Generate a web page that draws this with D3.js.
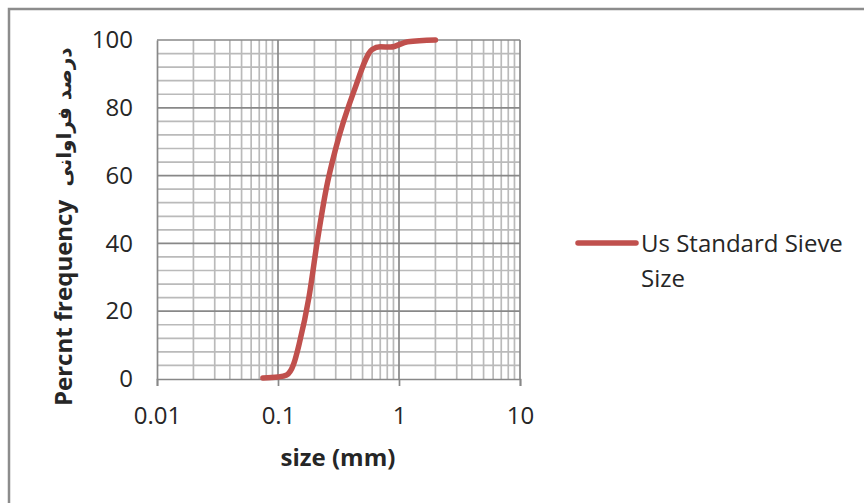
<!DOCTYPE html>
<html>
<head>
<meta charset="utf-8">
<script src="https://cdn.jsdelivr.net/npm/d3@7"></script>
<style>
  html, body { margin: 0; padding: 0; background: #fff; }
  svg { display: block; }
  text { font-family: "Open Sans", Lato, "Noto Sans", sans-serif; fill: #262626; }
</style>
</head>
<body>
<svg id="chart" width="864" height="503"></svg>
<script>
// Sieve analysis: particle size (mm) vs cumulative percent passing
const sieveSize = [0.075, 0.1, 0.118, 0.135, 0.15, 0.18, 0.212, 0.25, 0.3, 0.425, 0.6, 0.7, 0.85, 1.18, 2.0];
const percentPassing = [0.3, 0.6, 1.2, 4.5, 10.5, 24, 41, 56, 68, 85, 97.2, 98, 97.9, 99.5, 100];
const seriesName = ["Us Standard Sieve", "Size"];
const xTicks = [0.01, 0.1, 1, 10];
const xTickLabels = ["0.01", "0.1", "1", "10"];
const yTicks = [0, 20, 40, 60, 80, 100];
const xTitle = "size (mm)";
const yTitle = "Percnt frequency";
const yTitleFa = "درصد فراوانی";

const svg = d3.select("#chart");
const plot = { left: 157, right: 520, top: 40, bottom: 379 };

const x = d3.scaleLog().domain([0.01, 10]).range([plot.left, plot.right]);
const y = d3.scaleLinear().domain([0, 100]).range([plot.bottom, plot.top]);

// outer chart frame
svg.append("rect")
  .attr("x", 9).attr("y", 9)
  .attr("width", 900).attr("height", 600)
  .attr("fill", "none").attr("stroke", "#8c8c8c").attr("stroke-width", 2.5);

const grid = svg.append("g");

// minor vertical gridlines (2..9 within each decade)
const minorX = [];
[0.01, 0.1, 1].forEach(d => { for (let k = 2; k <= 9; k++) minorX.push(d * k); });
grid.selectAll(".vminor").data(minorX).join("line")
  .attr("x1", d => x(d)).attr("x2", d => x(d))
  .attr("y1", plot.top).attr("y2", plot.bottom)
  .attr("stroke", "#bababa").attr("stroke-width", 1.7);

// minor horizontal gridlines every 4 units
const minorY = d3.range(4, 100, 4).filter(v => v % 20 !== 0);
grid.selectAll(".hminor").data(minorY).join("line")
  .attr("x1", plot.left).attr("x2", plot.right)
  .attr("y1", d => y(d)).attr("y2", d => y(d))
  .attr("stroke", "#bababa").attr("stroke-width", 1.7);

// major gridlines
grid.selectAll(".vmajor").data(xTicks.slice(1)).join("line")
  .attr("x1", d => x(d)).attr("x2", d => x(d))
  .attr("y1", plot.top).attr("y2", plot.bottom)
  .attr("stroke", "#888888").attr("stroke-width", 1.7);
grid.selectAll(".hmajor").data(yTicks.slice(1)).join("line")
  .attr("x1", plot.left).attr("x2", plot.right)
  .attr("y1", d => y(d)).attr("y2", d => y(d))
  .attr("stroke", "#888888").attr("stroke-width", 1.7);

// x axis
const xAxis = d3.axisBottom(x).tickValues(xTicks)
  .tickFormat((d, i) => xTickLabels[i]).tickSize(7).tickPadding(21);
const gx = svg.append("g").attr("transform", `translate(0,${plot.bottom})`).call(xAxis);
gx.select(".domain").attr("stroke", "#888888").attr("stroke-width", 1.7);
gx.selectAll(".tick line").attr("stroke", "#888888").attr("stroke-width", 1.7);
gx.selectAll(".tick text").attr("font-size", 24).attr("fill", "#262626")
  .style("font-family", "'Open Sans', Lato, sans-serif");

// y axis
const yAxis = d3.axisLeft(y).tickValues(yTicks).tickSize(0).tickPadding(24);
const gy = svg.append("g").attr("transform", `translate(${plot.left},0)`).call(yAxis);
gy.select(".domain").attr("stroke", "#888888").attr("stroke-width", 1.7);
gy.selectAll(".tick text").attr("font-size", 24).attr("fill", "#262626")
  .style("font-family", "'Open Sans', Lato, sans-serif");

// cumulative curve
const line = d3.line()
  .x((d, i) => x(sieveSize[i]))
  .y(d => y(d))
  .curve(d3.curveMonotoneX);
svg.append("path")
  .datum(percentPassing)
  .attr("d", line)
  .attr("fill", "none")
  .attr("stroke", "#c0504d")
  .attr("stroke-width", 5.5)
  .attr("stroke-linecap", "round")
  .attr("stroke-linejoin", "round");

// axis titles
svg.append("text")
  .attr("x", 338).attr("y", 466)
  .attr("text-anchor", "middle").attr("font-size", 24).attr("font-weight", "bold")
  .text(xTitle);

svg.append("text")
  .attr("transform", "translate(72,303) rotate(-90)")
  .attr("text-anchor", "middle").attr("font-size", 24).attr("font-weight", "bold")
  .text(yTitle);

svg.append("text")
  .attr("transform", "translate(71,117) rotate(-90)")
  .attr("text-anchor", "middle").attr("font-size", 20).attr("font-weight", "bold")
  .attr("direction", "rtl")
  .style("font-family", "'DejaVu Sans', sans-serif")
  .text(yTitleFa);

// legend
const lg = svg.append("g");
lg.append("line")
  .attr("x1", 578).attr("x2", 636).attr("y1", 243).attr("y2", 243)
  .attr("stroke", "#c0504d").attr("stroke-width", 5.5).attr("stroke-linecap", "round");
lg.selectAll("text").data(seriesName).join("text")
  .attr("x", 641).attr("y", (d, i) => 252 + i * 35)
  .attr("font-size", 24)
  .text(d => d);
</script>
</body>
</html>
